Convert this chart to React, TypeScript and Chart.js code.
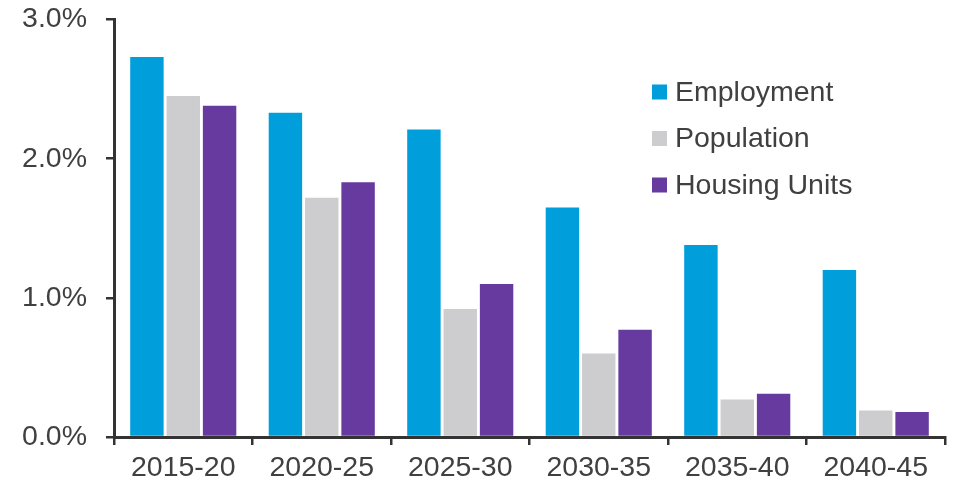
import React, { useEffect, useRef } from "react";
import { Chart, registerables } from "chart.js";

Chart.register(...registerables);

const categories = ["2015-20", "2020-25", "2025-30", "2030-35", "2035-40", "2040-45"];
const employment = [2.73, 2.33, 2.21, 1.65, 1.38, 1.2];
const population = [2.45, 1.72, 0.92, 0.6, 0.27, 0.19];
const housingUnits = [2.38, 1.83, 1.1, 0.77, 0.31, 0.18];
const seriesNames = ["Employment", "Population", "Housing Units"];
const yTicks = [0, 1, 2, 3];

const FONT = "'Liberation Sans', Arial, sans-serif";
const TEXT = "#404040";
const FS = 28.5;

const legendPlugin = {
  id: "insideLegend",
  afterDraw(chart: any) {
    const ctx = chart.ctx;
    ctx.save();
    ctx.font = `${FS}px ${FONT}`;
    ctx.textBaseline = "middle";
    ctx.fillStyle = TEXT;
    const rows = [92, 138.5, 185];
    chart.data.datasets.forEach((ds: any, i: number) => {
      const y = rows[i];
      ctx.fillStyle = ds.backgroundColor;
      ctx.fillRect(652, y - 7.5, 15, 15);
      ctx.fillStyle = TEXT;
      ctx.fillText(ds.label, 675, y + 1);
    });
    ctx.restore();
  },
};

export default function App() {
  const ref = useRef<HTMLCanvasElement>(null);
  useEffect(() => {
    if (!ref.current) return;
    const chart = new Chart(ref.current, {
      type: "bar",
      data: {
        labels: categories,
        datasets: [
          { label: seriesNames[0], data: employment, backgroundColor: "#009EDB" },
          { label: seriesNames[1], data: population, backgroundColor: "#CDCDD0" },
          { label: seriesNames[2], data: housingUnits, backgroundColor: "#673AA0" },
        ],
      },
      options: {
        animation: false,
        responsive: false,
        maintainAspectRatio: false,
        layout: { padding: { top: 19.5, right: 10, left: 0, bottom: 0 } },
        datasets: { bar: { categoryPercentage: 0.787, barPercentage: 0.92 } },
        plugins: { legend: { display: false }, tooltip: { enabled: false } },
        scales: {
          x: {
            grid: { drawOnChartArea: false, drawTicks: true, tickLength: 8, color: "#333", lineWidth: 2.5, offset: true },
            border: { display: true, color: "#333", width: 3 },
            ticks: { color: TEXT, font: { family: FONT, size: FS }, padding: 6 },
            afterFit: (s: any) => { s.height = 46; s.paddingLeft = 0; s.paddingRight = 0; },
          },
          y: {
            min: 0,
            max: 3,
            afterBuildTicks: (s: any) => { s.ticks = yTicks.map((v) => ({ value: v })); },
            grid: { drawOnChartArea: false, drawTicks: true, tickLength: 8, color: "#333", lineWidth: 2.5 },
            border: { display: true, color: "#333", width: 3 },
            ticks: {
              color: TEXT,
              font: { family: FONT, size: FS },
              padding: 19,
              callback: (v: any) => `${Number(v).toFixed(1)}%`,
            },
            afterFit: (s: any) => { s.width = 114; s.paddingTop = 0; s.paddingBottom = 0; },
          },
        },
      },
      plugins: [legendPlugin],
    });
    return () => chart.destroy();
  }, []);
  return (
    <div style={{ position: "fixed", left: 0, top: 0, width: 955, height: 483, background: "#fff" }}>
      <canvas ref={ref} width={955} height={483} style={{ width: 955, height: 483 }} />
    </div>
  );
}
